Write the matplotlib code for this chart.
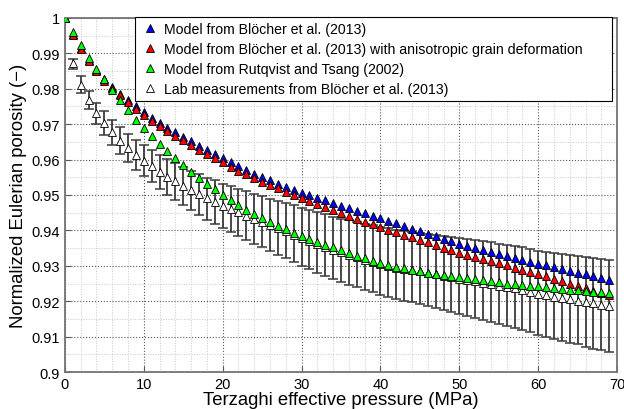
import matplotlib
matplotlib.use('Agg')
import matplotlib.pyplot as plt
import numpy as np
from matplotlib.ticker import MultipleLocator, FormatStrFormatter

plt.rcParams['font.family'] = ['Liberation Sans', 'DejaVu Sans']

# pressure steps (MPa)
pressure = np.arange(0, 70, 1.0)

bloecher = [1.0000, 0.9954, 0.9915, 0.9881, 0.9852, 0.9827, 0.9805, 0.9786, 0.9768, 0.9751,
            0.9734, 0.9718, 0.9703, 0.9690, 0.9677, 0.9664, 0.9651, 0.9639, 0.9627, 0.9616,
            0.9604, 0.9592, 0.9581, 0.9570, 0.9559, 0.9550, 0.9541, 0.9532, 0.9523, 0.9515,
            0.9507, 0.9499, 0.9492, 0.9485, 0.9477, 0.9470, 0.9463, 0.9456, 0.9448, 0.9441,
            0.9434, 0.9427, 0.9420, 0.9413, 0.9405, 0.9398, 0.9391, 0.9384, 0.9377, 0.9370,
            0.9363, 0.9357, 0.9351, 0.9345, 0.9339, 0.9333, 0.9327, 0.9321, 0.9316, 0.9311,
            0.9306, 0.9301, 0.9296, 0.9291, 0.9286, 0.9281, 0.9276, 0.9271, 0.9266, 0.9261]

bloecher_aniso = [1.0000, 0.9953, 0.9913, 0.9879, 0.9849, 0.9823, 0.9801, 0.9781, 0.9762, 0.9744,
                  0.9726, 0.9709, 0.9695, 0.9681, 0.9667, 0.9654, 0.9641, 0.9628, 0.9616, 0.9604,
                  0.9592, 0.9580, 0.9569, 0.9558, 0.9547, 0.9537, 0.9528, 0.9519, 0.9509, 0.9500,
                  0.9491, 0.9482, 0.9474, 0.9466, 0.9458, 0.9449, 0.9440, 0.9432, 0.9424, 0.9417,
                  0.9409, 0.9402, 0.9395, 0.9388, 0.9381, 0.9374, 0.9366, 0.9358, 0.9351, 0.9344,
                  0.9337, 0.9331, 0.9325, 0.9319, 0.9313, 0.9307, 0.9301, 0.9295, 0.9288, 0.9282,
                  0.9276, 0.9270, 0.9263, 0.9257, 0.9250, 0.9243, 0.9236, 0.9230, 0.9224, 0.9217]

rutqvist = [1.0000, 0.9960, 0.9922, 0.9888, 0.9856, 0.9826, 0.9797, 0.9768, 0.9740, 0.9713,
            0.9689, 0.9666, 0.9644, 0.9623, 0.9603, 0.9584, 0.9566, 0.9548, 0.9532, 0.9516,
            0.9500, 0.9486, 0.9472, 0.9459, 0.9446, 0.9435, 0.9424, 0.9413, 0.9403, 0.9394,
            0.9385, 0.9376, 0.9368, 0.9360, 0.9352, 0.9344, 0.9336, 0.9329, 0.9322, 0.9315,
            0.9309, 0.9303, 0.9298, 0.9293, 0.9289, 0.9285, 0.9281, 0.9278, 0.9274, 0.9271,
            0.9268, 0.9265, 0.9262, 0.9259, 0.9256, 0.9253, 0.9250, 0.9248, 0.9246, 0.9244,
            0.9242, 0.9239, 0.9237, 0.9235, 0.9233, 0.9231, 0.9229, 0.9227, 0.9225, 0.9223]

lab = [1.0000, 0.9872, 0.9811, 0.9768, 0.9731, 0.9704, 0.9677, 0.9653, 0.9632, 0.9612,
       0.9597, 0.9582, 0.9566, 0.9552, 0.9539, 0.9526, 0.9514, 0.9503, 0.9491, 0.9481,
       0.9470, 0.9460, 0.9451, 0.9442, 0.9433, 0.9424, 0.9415, 0.9406, 0.9397, 0.9388,
       0.9379, 0.9370, 0.9362, 0.9354, 0.9346, 0.9338, 0.9331, 0.9324, 0.9317, 0.9311,
       0.9305, 0.9300, 0.9295, 0.9291, 0.9287, 0.9284, 0.9280, 0.9276, 0.9272, 0.9268,
       0.9264, 0.9260, 0.9256, 0.9252, 0.9248, 0.9244, 0.9240, 0.9236, 0.9231, 0.9226,
       0.9221, 0.9217, 0.9213, 0.9209, 0.9205, 0.9202, 0.9198, 0.9194, 0.9190, 0.9187]

lab_err_up = [0.0000, 0.0012, 0.0024, 0.0025, 0.0029, 0.0034, 0.0036, 0.0038, 0.0040, 0.0043,
              0.0044, 0.0045, 0.0048, 0.0050, 0.0052, 0.0053, 0.0055, 0.0056, 0.0058, 0.0060,
              0.0062, 0.0064, 0.0066, 0.0068, 0.0070, 0.0073, 0.0075, 0.0078, 0.0080, 0.0083,
              0.0085, 0.0087, 0.0089, 0.0091, 0.0093, 0.0095, 0.0097, 0.0099, 0.0101, 0.0103,
              0.0105, 0.0106, 0.0107, 0.0108, 0.0109, 0.0110, 0.0111, 0.0112, 0.0113, 0.0113,
              0.0114, 0.0115, 0.0116, 0.0117, 0.0118, 0.0118, 0.0119, 0.0120, 0.0121, 0.0122,
              0.0122, 0.0123, 0.0124, 0.0125, 0.0126, 0.0126, 0.0127, 0.0128, 0.0129, 0.0130]

lab_err_lo = [0.0000, 0.0016, 0.0022, 0.0026, 0.0031, 0.0035, 0.0036, 0.0037, 0.0040, 0.0041,
              0.0044, 0.0046, 0.0049, 0.0051, 0.0053, 0.0055, 0.0057, 0.0059, 0.0061, 0.0062,
              0.0064, 0.0065, 0.0067, 0.0068, 0.0070, 0.0072, 0.0073, 0.0075, 0.0076, 0.0078,
              0.0080, 0.0080, 0.0081, 0.0082, 0.0082, 0.0083, 0.0084, 0.0084, 0.0085, 0.0085,
              0.0086, 0.0087, 0.0088, 0.0089, 0.0090, 0.0091, 0.0093, 0.0094, 0.0096, 0.0097,
              0.0099, 0.0101, 0.0103, 0.0104, 0.0106, 0.0108, 0.0110, 0.0111, 0.0113, 0.0114,
              0.0116, 0.0118, 0.0119, 0.0121, 0.0122, 0.0124, 0.0126, 0.0128, 0.0129, 0.0131]

labels = ['Model from Bl\u00f6cher et al. (2013)',
          'Model from Bl\u00f6cher et al. (2013) with anisotropic grain deformation',
          'Model from Rutqvist and Tsang (2002)',
          'Lab measurements from Bl\u00f6cher et al. (2013)']


def main():
    fig = plt.figure(figsize=(6.24, 4.10), dpi=100)
    ax = fig.add_axes([0.104, 0.09, 0.885, 0.864])

    mk = dict(marker='^', markersize=6.3, markeredgecolor='black',
              markeredgewidth=0.6, linestyle='none')

    # lab error bars go underneath everything
    ax.errorbar(pressure, lab, yerr=[lab_err_lo, lab_err_up], fmt='none',
                ecolor='#3a3a3a', elinewidth=1.3, capsize=3.5, capthick=1.1,
                zorder=2)
    h_lab, = ax.plot(pressure, lab, markerfacecolor='white', zorder=3, **mk)
    h_b, = ax.plot(pressure, bloecher, markerfacecolor='#0000ff', zorder=4, **mk)
    h_r, = ax.plot(pressure, bloecher_aniso, markerfacecolor='#ff0000', zorder=5, **mk)
    h_g, = ax.plot(pressure, rutqvist, markerfacecolor='#00ff00', zorder=6, **mk)

    ax.set_xlim(0, 70)
    ax.set_ylim(0.9, 1.0)
    ax.xaxis.set_major_locator(MultipleLocator(10))
    ax.xaxis.set_minor_locator(MultipleLocator(2))
    ax.yaxis.set_major_locator(MultipleLocator(0.01))
    ax.yaxis.set_minor_locator(MultipleLocator(0.005))
    ax.yaxis.set_major_formatter(FormatStrFormatter('%g'))

    ax.grid(which='major', linestyle=':', color='0.35', linewidth=0.8)
    ax.grid(which='minor', linestyle=':', color='0.78', linewidth=0.7)
    ax.set_axisbelow(True)

    for s in ax.spines.values():
        s.set_color('0.45')
        s.set_linewidth(1.3)
    ax.tick_params(which='both', direction='in', colors='0.35', labelcolor='black',
                   labelsize=10.5)
    ax.tick_params(which='major', length=4)
    ax.tick_params(which='minor', length=0)

    ax.set_xlabel('Terzaghi effective pressure (MPa)', fontsize=13.3, labelpad=0)
    ax.set_ylabel('Normalized Eulerian porosity (\u2212)', fontsize=13.3, labelpad=3)

    leg = ax.legend([h_b, h_r, h_g, h_lab], labels, loc='upper left',
                    bbox_to_anchor=(135 / 624, 1 - 18 / 410, (612 - 135) / 624, 0.0),
                    bbox_transform=fig.transFigure, mode='expand',
                    fontsize=10.2, frameon=True, fancybox=False, framealpha=1,
                    edgecolor='black', borderaxespad=0, handletextpad=0.3,
                    handlelength=1.4, labelspacing=0.42, borderpad=0.35)
    leg.get_frame().set_linewidth(0.8)

    plt.savefig('out.png', dpi=100)
    plt.close()


if __name__ == "__main__":
    main()
